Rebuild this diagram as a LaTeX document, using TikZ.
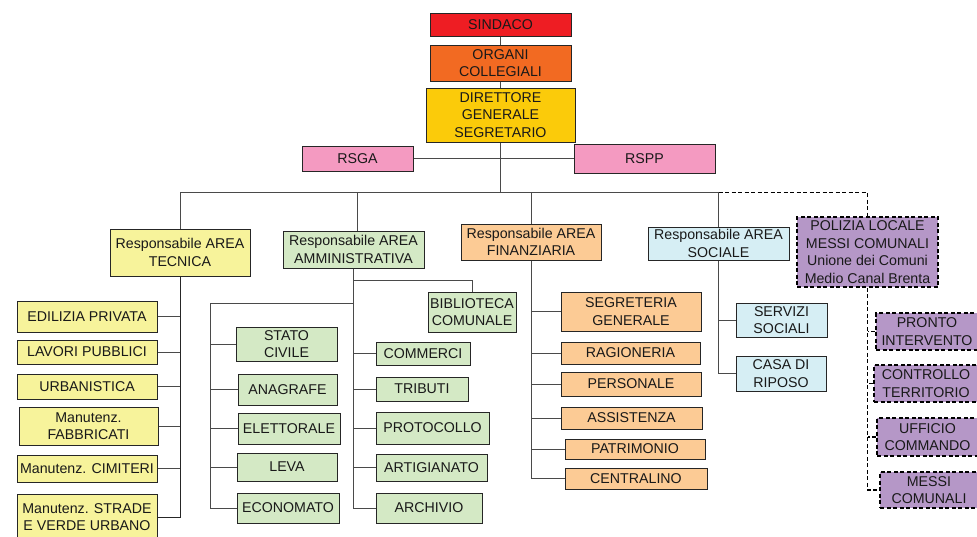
\documentclass[tikz,border=0pt]{standalone}
\usepackage{fontspec}
\setmainfont{Liberation Sans}
\definecolor{cRed}{HTML}{EE1D23}
\definecolor{cOrg}{HTML}{F26A22}
\definecolor{cDir}{HTML}{FBCB0A}
\definecolor{cPink}{HTML}{F49AC1}
\definecolor{cYel}{HTML}{F7F39B}
\definecolor{cGrn}{HTML}{D4E9C5}
\definecolor{cLor}{HTML}{FCCB95}
\definecolor{cBlu}{HTML}{D6EEF4}
\definecolor{cPur}{HTML}{B597C7}
\definecolor{cLine}{HTML}{4A4A4A}
\begin{document}
\begin{tikzpicture}[x=1pt,y=-1pt,
  box/.style={draw=black!85, line width=1pt, inner sep=0pt, align=center,
    font=\fontsize{14.2}{17.5}\selectfont, text=black!90},
  dbox/.style={box, dash pattern=on 4pt off 2.5pt, line width=1.8pt, draw=black},
  conn/.style={draw=cLine, line width=1pt},
  dconn/.style={draw=black, line width=1.6pt, dash pattern=on 4pt off 2.5pt}]
\clip (0,0) rectangle (977,536);
\fill[white] (0,0) rectangle (977,536);

% top
\node[box, fill=cRed, minimum width=141, minimum height=23] (sin) at (500.5,24.5) {SINDACO};
\node[box, fill=cOrg, minimum width=141, minimum height=36] (org) at (500.5,63) {ORGANI\\COLLEGIALI};
\node[box, fill=cDir, minimum width=149, minimum height=54] (dir) at (500.5,115) {DIRETTORE\\GENERALE\\SEGRETARIO};
\node[box, fill=cPink, minimum width=111, minimum height=25] (rsga) at (357.5,158.5) {RSGA};
\node[box, fill=cPink, minimum width=141, minimum height=29] (rspp) at (644.5,158.5) {RSPP};

% areas
\node[box, fill=cYel, minimum width=140, minimum height=47] (tec) at (180,252.5) {Responsabile AREA\\TECNICA};
\node[box, fill=cGrn, minimum width=141, minimum height=37] (amm) at (353.5,249.5) {Responsabile AREA\\AMMINISTRATIVA};
\node[box, fill=cLor, minimum width=140, minimum height=36] (fin) at (531,242) {Responsabile AREA\\FINANZIARIA};
\node[box, fill=cBlu, minimum width=141, minimum height=33] (soc) at (718.5,243.5) {Responsabile AREA\\SOCIALE};
\node[dbox, fill=cPur, minimum width=141, minimum height=70] (pol) at (867.5,252) {POLIZIA LOCALE\\MESSI COMUNALI\\Unione dei Comuni\\Medio Canal Brenta};

% tecnica children
\node[box, fill=cYel, minimum width=140, minimum height=31] (edil) at (87,316.5) {EDILIZIA PRIVATA};
\node[box, fill=cYel, minimum width=140, minimum height=24] (lav) at (87,352) {LAVORI PUBBLICI};
\node[box, fill=cYel, minimum width=140, minimum height=25] (urb) at (87,386.5) {URBANISTICA};
\node[box, fill=cYel, minimum width=139, minimum height=38] (fab) at (88.5,426) {Manutenz.\\FABBRICATI};
\node[box, fill=cYel, minimum width=140, minimum height=27] (cim) at (87,468.5) {Manutenz. CIMITERI};
\node[box, fill=cYel, minimum width=140, minimum height=46] (str) at (87,517) {Manutenz. STRADE\\E VERDE URBANO};

% amministrativa children
\node[box, fill=cGrn, minimum width=88, minimum height=40] (bib) at (472,312) {BIBLIOTECA\\COMUNALE};
\node[box, fill=cGrn, minimum width=101, minimum height=34] (sc) at (286.5,344) {STATO\\CIVILE};
\node[box, fill=cGrn, minimum width=99, minimum height=31] (ana) at (287.5,389.5) {ANAGRAFE};
\node[box, fill=cGrn, minimum width=102, minimum height=31] (ele) at (289,428.5) {ELETTORALE};
\node[box, fill=cGrn, minimum width=100, minimum height=28] (leva) at (287,467) {LEVA};
\node[box, fill=cGrn, minimum width=102, minimum height=30] (eco) at (288,508) {ECONOMATO};
\node[box, fill=cGrn, minimum width=94, minimum height=23] (com) at (423,353.5) {COMMERCI};
\node[box, fill=cGrn, minimum width=92, minimum height=24] (tri) at (422,389) {TRIBUTI};
\node[box, fill=cGrn, minimum width=113, minimum height=32] (pro) at (432.5,428) {PROTOCOLLO};
\node[box, fill=cGrn, minimum width=111, minimum height=27] (art) at (431.5,467.5) {ARTIGIANATO};
\node[box, fill=cGrn, minimum width=106, minimum height=30] (arc) at (429,508) {ARCHIVIO};

% finanziaria children
\node[box, fill=cLor, minimum width=140, minimum height=39] (seg) at (631,311.5) {SEGRETERIA\\GENERALE};
\node[box, fill=cLor, minimum width=139, minimum height=22] (rag) at (630.5,353) {RAGIONERIA};
\node[box, fill=cLor, minimum width=140, minimum height=24] (per) at (631,384) {PERSONALE};
\node[box, fill=cLor, minimum width=141, minimum height=22] (ass) at (631.5,418) {ASSISTENZA};
\node[box, fill=cLor, minimum width=140, minimum height=20] (pat) at (635,449) {PATRIMONIO};
\node[box, fill=cLor, minimum width=142, minimum height=21] (cen) at (636,478.5) {CENTRALINO};

% sociale children
\node[box, fill=cBlu, minimum width=91, minimum height=34] (ser) at (781.5,320) {SERVIZI\\SOCIALI};
\node[box, fill=cBlu, minimum width=90, minimum height=35] (casa) at (781,373.5) {CASA DI\\RIPOSO};

% polizia children
\node[dbox, fill=cPur, minimum width=102, minimum height=37] (pin) at (927,331.5) {PRONTO\\INTERVENTO};
\node[dbox, fill=cPur, minimum width=104, minimum height=37] (ctr) at (926,383.5) {CONTROLLO\\TERRITORIO};
\node[dbox, fill=cPur, minimum width=101, minimum height=38] (uff) at (927.5,437) {UFFICIO\\COMMANDO};
\node[dbox, fill=cPur, minimum width=98, minimum height=36] (mes) at (929,490) {MESSI\\COMUNALI};

% top connectors
\coordinate (bus) at (500.5,192.5);
\draw[conn] (sin.south) -- (org.north);
\draw[conn] (org.south) -- (dir.north);
\draw[conn] (rsga.east) -- (rspp.west);
\draw[conn, line width=1.3pt] (dir.south) -- (bus);
\draw[conn] (bus) -| (tec.north);
\draw[conn] (bus) -| ([xshift=3.5pt]amm.north);
\draw[conn] (bus) -| (fin.north);
\draw[conn] (bus) -| (soc.north);
\draw[dconn] (bus -| soc.north) -| (pol.north);

% tecnica
\draw[conn, draw=black!85] (tec.south) |- (str.east);
\foreach \n in {edil,lav,urb,fab,cim} \draw[conn] (\n.east) -- (\n.east -| tec.south);

% amministrativa
\coordinate (aml) at (210,303);
\draw[conn] (amm.south) -- ++(0,12) -| (bib.north);
\draw[conn] (amm.south) |- (aml) |- (eco.west);
\foreach \n in {sc,ana,ele,leva} \draw[conn] (\n.west) -- (\n.west -| aml);
\draw[conn] (amm.south) |- (arc.west);
\foreach \n in {com,tri,pro,art} \draw[conn] (\n.west) -- (\n.west -| amm.south);

% finanziaria
\draw[conn] (fin.south) |- (cen.west);
\foreach \n in {seg,rag,per,ass,pat} \draw[conn] (\n.west) -- (\n.west -| fin.south);

% sociale
\draw[conn] (soc.south) |- (casa.west);
\draw[conn] (ser.west) -- (ser.west -| soc.south);

% polizia
\draw[dconn] (pol.south) |- (mes.west);
\foreach \n in {pin,ctr,uff} \draw[dconn] (\n.west) -- (\n.west -| pol.south);
\end{tikzpicture}
\end{document}
